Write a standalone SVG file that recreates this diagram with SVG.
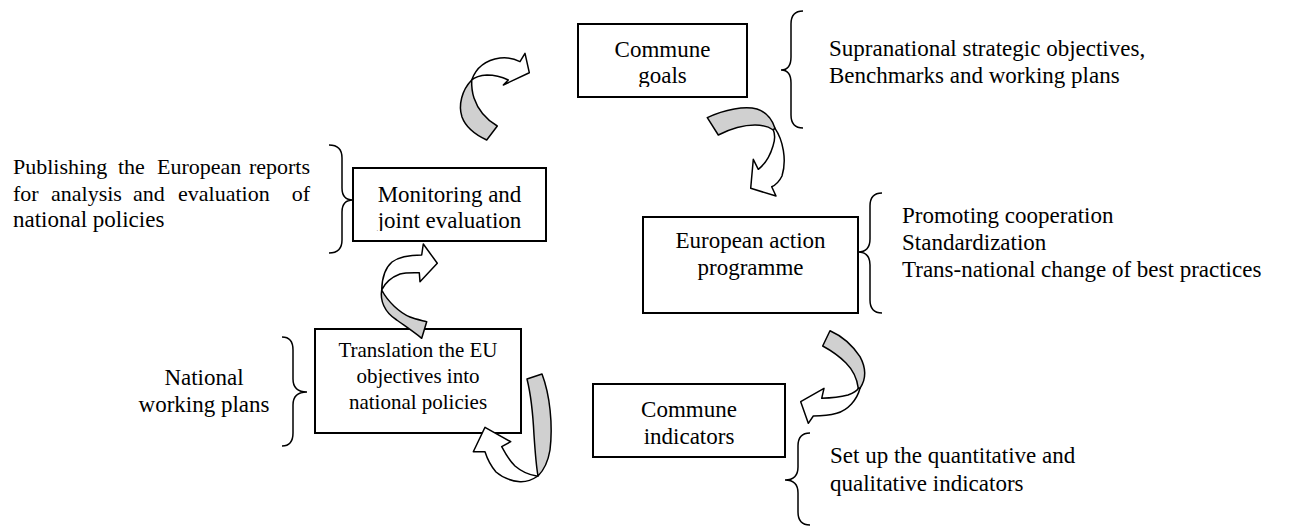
<svg xmlns="http://www.w3.org/2000/svg" width="1289" height="527" viewBox="0 0 1289 527">
<style>
.box{fill:#fff;stroke:#000;stroke-width:2}
.t{font-family:"Liberation Serif","Times New Roman",serif;font-size:23px;fill:#000}
.tc{text-anchor:middle}
.te{text-anchor:end}
.sm{font-size:21px}
.pn{font-size:22px}
.br{fill:none;stroke:#000;stroke-width:1.5}
.g{fill:#d0d0d0;stroke:#000;stroke-width:1.5;stroke-linejoin:round}
.w{fill:#fff;stroke:#000;stroke-width:1.5;stroke-linejoin:round}
</style>
<defs>
<clipPath id="cg"><rect x="578" y="24" width="169" height="63"/></clipPath>
<clipPath id="cm"><rect x="353" y="168" width="193" height="63"/></clipPath>
</defs>

<g id="commune-goals">
<rect class="box" x="578" y="24" width="169" height="73"/>
<g clip-path="url(#cg)">
<text class="t tc" x="662.5" y="57">Commune</text>
<text class="t tc" x="662.5" y="83">goals</text>
</g>
</g>

<g id="monitoring">
<rect class="box" x="353" y="168" width="193" height="73"/>
<g clip-path="url(#cm)">
<text class="t tc" x="449.5" y="202">Monitoring and</text>
<text class="t tc" x="449.5" y="228">joint evaluation</text>
</g>
</g>

<g id="european-action">
<rect class="box" x="643" y="217" width="215" height="96"/>
<text class="t tc" x="750.5" y="248">European action</text>
<text class="t tc" x="750.5" y="275">programme</text>
</g>

<g id="translation">
<rect class="box" x="315" y="329" width="206" height="104"/>
<text class="t tc sm" x="418" y="357">Translation the EU</text>
<text class="t tc sm" x="418" y="383">objectives into</text>
<text class="t tc sm" x="418" y="409">national policies</text>
</g>

<g id="commune-indicators">
<rect class="box" x="593" y="384" width="192" height="73"/>
<text class="t tc" x="689" y="417">Commune</text>
<text class="t tc" x="689" y="444">indicators</text>
</g>

<g id="note-goals">
<path class="br" d="M803,11 Q791,11 791,24 L791,57 Q791,70 781,70 Q791,70 791,83 L791,115 Q791,128 803,128"/>
<text class="t" x="829" y="56">Supranational strategic objectives,</text>
<text class="t" x="829" y="83">Benchmarks and working plans</text>
</g>

<g id="note-monitoring">
<path class="br" d="M329,145 Q342,145 342,158 L342,188 Q342,200 353,200 Q342,200 342,212 L342,240 Q342,253 329,253"/>
<text class="t pn" y="174"><tspan x="13">Publishing</tspan><tspan x="118">the</tspan><tspan x="157">European</tspan></text>
<text class="t pn te" x="310" y="174">reports</text>
<text class="t pn" y="201"><tspan x="13">for</tspan><tspan x="51">analysis</tspan><tspan x="133">and</tspan><tspan x="178">evaluation</tspan></text>
<text class="t pn te" x="310" y="201">of</text>
<text class="t" x="13" y="227">national policies</text>
</g>

<g id="note-action">
<path class="br" d="M882,193 Q870,193 870,206 L870,239 Q870,252 858,252 Q870,252 870,265 L870,300 Q870,313 882,313"/>
<text class="t" x="902" y="223">Promoting cooperation</text>
<text class="t" x="902" y="250">Standardization</text>
<text class="t" x="902" y="277">Trans-national change of best practices</text>
</g>

<g id="note-translation">
<path class="br" d="M282,337 Q293,337 293,350 L293,379 Q293,392 307,392 Q293,392 293,405 L293,433 Q293,446 282,446"/>
<text class="t tc" x="204" y="385">National</text>
<text class="t tc" x="204" y="412">working plans</text>
</g>

<g id="note-indicators">
<path class="br" d="M810,433 Q798,433 798,446 L798,467 Q798,480 785,480 Q798,480 798,493 L798,512 Q798,525 810,525"/>
<text class="t" x="830" y="463">Set up the quantitative and</text>
<text class="t" x="830" y="491">qualitative indicators</text>
</g>

<g id="connectors">
<!-- monitoring -> goals -->
<path class="g" d="M471.7,80 C462,90 458,105 462,117 C466,128 476,135 486.7,140 L497.3,126 C487,120 478,110 474,98 C472,92 471.5,86 471.7,80 Z"/>
<path class="w" d="M471.7,80 C476,68 486,60 500,58 C508,57 515,59 520,61.7 L525,53.3 L529.3,72.7 L503.3,85 L508.3,80 C502,77 494,75 487,75 C480,75.5 475,77 471.7,80 Z"/>
<!-- goals -> action -->
<path class="g" d="M707.3,117.7 C725,109 745,106 757,109 C766,112 772,119 775,128.3 L773.3,130 C768,126 762,125 755,125 C742,125 730,129 718.3,135 Z"/>
<path class="w" d="M775,128.3 C783,140 787,160 782,176 C779,182 776,185 771.7,186.7 L776,196 L750.7,188.3 L753.3,159.3 L758.3,169.3 C764,165 770,156 773,146 C775,140 775,134 773.3,130 Z"/>
<!-- action -> indicators -->
<path class="g" d="M830,330.7 C842,336 853,346 860,356.7 C865,366 867,378 860,388.3 L858.3,388.3 C857,378 853,370 846,363 C840,357 832,351 822.7,346 Z"/>
<path class="w" d="M860,388.3 C857,400 848,410 836.7,413.3 C829,415.5 820,416 813.3,416 L808.3,423.3 L800.7,401.7 L824,388.3 L821.7,398.3 C830,398 840,397 848,395 C853,393 857,391 858.3,388.3 Z"/>
<!-- indicators -> translation -->
<path class="g" d="M527,379 L542,374 C550,395 553,425 550,450 C548,462 544,470 538,476 C536,465 535,450 534,435 C533,415 531,395 527,379 Z"/>
<path class="w" d="M538,476 C532,480 526,482 520,481.7 C510,481 503,478 496,472 C491,466 487,458 485,451.7 L473.3,451.7 L485,427.3 L510.7,441.7 L501.7,446.7 C505,453 509,460 515,466 C522,472 530,475 536.7,476 Z"/>
<!-- translation -> monitoring -->
<path class="g" d="M381.7,290 C380,300 384,312 396.7,320 C405,326 414,332 421.7,338.3 L426.7,321.7 C420,320 415,319 410,317 C400,313 388,302 381.7,290 Z"/>
<path class="w" d="M381.7,290 C382,278 385,268 392,262 C400,256 410,255 421.7,255 L423.3,244 L437.3,263.3 L420,281.7 L419.3,272.7 C412,272.5 405,272.5 400,274 C392,277 385,283 381.7,290 Z"/>
</g>
</svg>
